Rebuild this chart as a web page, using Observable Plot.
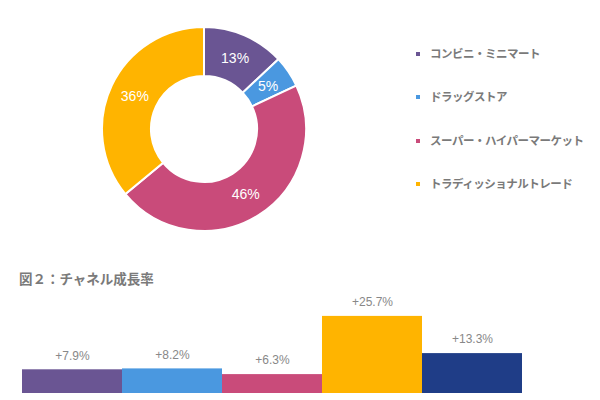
<!DOCTYPE html>
<html><head><meta charset="utf-8">
<script src="https://cdn.jsdelivr.net/npm/d3@7"></script>
<script src="https://cdn.jsdelivr.net/npm/@observablehq/plot@0.6"></script>
<style>
body{margin:0;background:#fff;}
#wrap{position:relative;width:600px;height:400px;overflow:hidden;font-family:"Liberation Sans",Arial,sans-serif;}
#donut{position:absolute;left:101px;top:26px;}
#legend{position:absolute;left:416px;top:0;}
.lg{position:absolute;white-space:nowrap;font-family:"Noto Sans CJK JP",sans-serif;font-size:11.5px;letter-spacing:-0.5px;font-weight:bold;color:#7a7a7a;line-height:16px;}
.lg span{display:inline-block;width:4px;height:4px;margin-right:10px;vertical-align:middle;position:relative;top:-1px;}
#title{position:absolute;left:19px;top:268px;font-family:"Noto Sans CJK JP",sans-serif;font-size:13.5px;font-weight:bold;color:#7a7a7a;white-space:nowrap;}
#bars{position:absolute;left:0;top:290px;}
</style></head>
<body><div id="wrap"><div id="donut"></div><div id="legend"></div><div id="title">図２：チャネル成長率</div><div id="bars"></div></div>
<script>
const channels = ["コンビニ・ミニマート","ドラッグストア","スーパー・ハイパーマーケット","トラディッショナルトレード"];
const shares = [13, 5, 46, 36];
const channelColors = ["#6a5593","#4a98e0","#c94b7a","#ffb400"];
const barNames = ["コンビニ・ミニマート","ドラッグストア","スーパー・ハイパーマーケット","トラディッショナルトレード","全体"];
const growth = [7.9, 8.2, 6.3, 25.7, 13.3];
const barColors = ["#6a5593","#4a98e0","#c94b7a","#ffb400","#1f3d87"];
const legendTops = [45, 88, 132, 175];

const slices = channels.map((name, i) => ({name, share: shares[i], color: channelColors[i]}));
const pie = d3.pie().sort(null).value(d => d.share)(slices);
const inner = 0.52, labelR = 0.755;
const labels = pie.map(p => {
  const a = (p.startAngle + p.endAngle) / 2;
  return {x: labelR * Math.sin(a), y: labelR * Math.cos(a), text: p.data.share + "%"};
});

const donutMark = (index, scales) => {
  const cx = scales.x(0), cy = scales.y(0);
  const R = scales.x(1) - cx;
  const arc = d3.arc().innerRadius(R * inner).outerRadius(R);
  const g = d3.create("svg:g").attr("transform", `translate(${cx},${cy})`);
  g.selectAll("path").data(pie).join("path")
    .attr("d", arc).attr("fill", d => d.data.color)
    .attr("stroke", "white").attr("stroke-width", 2);
  return g.node();
};

const donut = Plot.plot({
  width: 206, height: 206, margin: 1,
  x: {domain: [-1, 1], axis: null},
  y: {domain: [-1, 1], axis: null},
  marks: [
    donutMark,
    Plot.text(labels, {x: "x", y: "y", text: "text", fill: "white", fontSize: 14, fontFamily: "Liberation Sans, Arial, sans-serif"})
  ]
});
document.getElementById("donut").append(donut);

const legend = document.getElementById("legend");
channels.forEach((c, i) => {
  const d = document.createElement("div");
  d.className = "lg";
  d.style.top = legendTops[i] + "px";
  d.innerHTML = `<span style="background:${channelColors[i]}"></span>${c}`;
  legend.append(d);
});

const barData = barNames.map((name, i) => ({name, growth: growth[i]}));
const bars = Plot.plot({
  width: 600, height: 110,
  marginLeft: 20, marginRight: 77, marginTop: 13, marginBottom: 7,
  x: {domain: barNames, padding: 0, axis: null},
  y: {domain: [0, 30], axis: null},
  color: {domain: barNames, range: barColors},
  marks: [
    Plot.barY(barData, {x: "name", y: "growth", fill: "name", inset: 0}),
    Plot.text(barData, {x: "name", y: "growth", text: d => "+" + d.growth.toFixed(1) + "%", dy: -14, fill: "#888", fontSize: 12, fontFamily: "Liberation Sans, Arial, sans-serif"})
  ]
});
document.getElementById("bars").append(bars);
</script></body></html>
